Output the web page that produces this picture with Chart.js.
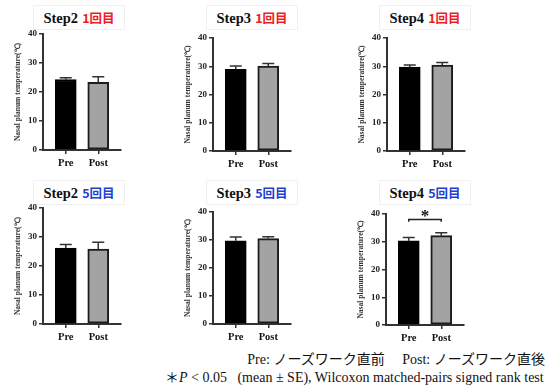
<!DOCTYPE html>
<html>
<head>
<meta charset="utf-8">
<script src="https://cdn.jsdelivr.net/npm/chart.js@4.4.1/dist/chart.umd.min.js"></script>
<style>
  body { margin: 0; background: #fff; }
  #page { position: relative; width: 548px; height: 385px; overflow: hidden; background: #fff; }
  canvas { position: absolute; }
  .ttl { position: absolute; width: 92px; height: 25px; border: 1px solid #f0f0f0; box-sizing: border-box;
         text-align: center; line-height: 24px; white-space: nowrap; }
  .ttl .s { font: bold 14.5px "Liberation Serif", serif; color: #111; }
  .ttl .r { font: bold 12.5px "Noto Sans CJK JP", sans-serif; }
  .note { position: absolute; white-space: pre; color: #111; line-height: 15px; font-family: "Liberation Serif", "Noto Sans CJK JP", serif; }
</style>
</head>
<body>
<div id="page">
  <div class="note" style="right:3px; top:352px; font-size:14px;">Pre: ノーズワーク直前　 Post: ノーズワーク直後</div>
  <div class="note" style="left:165px; top:370px; font-size:14px;">＊<i>P</i> &lt; 0.05   (mean ± SE), Wilcoxon matched-pairs signed rank test</div>
</div>
<script>
// categories and ticks
const groups = ['Pre', 'Post'];
const yTicks = [0, 10, 20, 30, 40];

// mean and SE per panel
const step2r1Mean = [24.3, 23.3];
const step2r1Se = [0.6, 2.0];
const step3r1Mean = [28.9, 30.1];
const step3r1Se = [1.2, 0.9];
const step4r1Mean = [29.7, 30.4];
const step4r1Se = [0.7, 0.9];
const step2r5Mean = [26.2, 25.8];
const step2r5Se = [1.2, 2.4];
const step3r5Mean = [29.7, 30.5];
const step3r5Se = [1.4, 0.7];
const step4r5Mean = [30.3, 32.2];
const step4r5Se = [1.2, 1.0];

const RED = '#ee1c24', BLUE = '#1f3fd0';

const panels = [
  { step: 'Step2', round: '1回目', color: RED,  mean: step2r1Mean, se: step2r1Se, axisX: 43,  top: 34,  bottom: 150, titleX: 79,  titleY: 5 },
  { step: 'Step3', round: '1回目', color: RED,  mean: step3r1Mean, se: step3r1Se, axisX: 213, top: 38,  bottom: 151, titleX: 252, titleY: 5 },
  { step: 'Step4', round: '1回目', color: RED,  mean: step4r1Mean, se: step4r1Se, axisX: 387, top: 38,  bottom: 151, titleX: 425, titleY: 5 },
  { step: 'Step2', round: '5回目', color: BLUE, mean: step2r5Mean, se: step2r5Se, axisX: 43,  top: 208, bottom: 324, titleX: 79,  titleY: 180 },
  { step: 'Step3', round: '5回目', color: BLUE, mean: step3r5Mean, se: step3r5Se, axisX: 213, top: 212, bottom: 324, titleX: 252, titleY: 180 },
  { step: 'Step4', round: '5回目', color: BLUE, mean: step4r5Mean, se: step4r5Se, axisX: 386, top: 214, bottom: 325, titleX: 425, titleY: 180,
    sig: { from: 0, to: 1, y: 38, drop: 0.8, label: '*' } }
];

// upper error whiskers
const errorBars = {
  id: 'errorBars',
  afterDatasetsDraw(chart, args, opts) {
    const ctx = chart.ctx, y = chart.scales.y;
    const meta = chart.getDatasetMeta(0);
    const vals = chart.data.datasets[0].data;
    ctx.save();
    ctx.strokeStyle = '#333';
    ctx.lineWidth = 1.5;
    meta.data.forEach((bar, i) => {
      const t = y.getPixelForValue(vals[i].y + opts.se[i]);
      ctx.beginPath();
      ctx.moveTo(bar.x, bar.y);
      ctx.lineTo(bar.x, t);
      ctx.moveTo(bar.x - 6, t);
      ctx.lineTo(bar.x + 6, t);
      ctx.stroke();
    });
    ctx.restore();
  }
};

// significance bracket
const sigBracket = {
  id: 'sigBracket',
  afterDraw(chart, args, opts) {
    if (!opts.sig) return;
    const s = opts.sig, ctx = chart.ctx, y = chart.scales.y;
    const meta = chart.getDatasetMeta(0);
    const x0 = meta.data[s.from].x, x1 = meta.data[s.to].x;
    const yt = y.getPixelForValue(s.y), yb = y.getPixelForValue(s.y - s.drop);
    ctx.save();
    ctx.strokeStyle = '#222';
    ctx.lineWidth = 1.5;
    ctx.beginPath();
    ctx.moveTo(x0, yb);
    ctx.lineTo(x0, yt);
    ctx.lineTo(x1, yt);
    ctx.lineTo(x1, yb);
    ctx.stroke();
    ctx.fillStyle = '#111';
    ctx.font = 'bold 17px "Liberation Serif"';
    ctx.textAlign = 'center';
    ctx.textBaseline = 'alphabetic';
    ctx.fillText(s.label, (x0 + x1) / 2, yt + 1);
    ctx.restore();
  }
};

const page = document.getElementById('page');

panels.forEach(p => {
  // title box
  const t = document.createElement('div');
  t.className = 'ttl';
  t.style.left = (p.titleX - 46) + 'px';
  t.style.top = p.titleY + 'px';
  t.innerHTML = '<span class="s">' + p.step + '</span> <span class="r" style="color:' + p.color + '">' + p.round + '</span>';
  page.appendChild(t);

  const cv = document.createElement('canvas');
  const padTop = 10, yW = 43, xH = 22, plotW = 78, padR = 6;
  cv.width = yW + plotW + padR;
  cv.height = padTop + (p.bottom - p.top) + xH;
  cv.style.left = (p.axisX - yW) + 'px';
  cv.style.top = (p.top - padTop) + 'px';
  page.appendChild(cv);

  new Chart(cv, {
    type: 'bar',
    data: {
      datasets: [{
        data: p.mean.map((v, i) => ({ x: i + 1, y: v })),
        backgroundColor: ['#000000', '#a3a3a3'],
        borderColor: ['#000000', '#1c1c1c'],
        borderWidth: 2,
        borderSkipped: false,
        barThickness: 21
      }]
    },
    options: {
      responsive: false,
      animation: false,
      devicePixelRatio: 1,
      layout: { padding: { top: padTop, right: padR, left: 0, bottom: 0 } },
      plugins: {
        legend: { display: false },
        tooltip: { enabled: false },
        errorBars: { se: p.se },
        sigBracket: { sig: p.sig }
      },
      scales: {
        x: {
          type: 'linear',
          offset: false,
          min: 0.3,
          max: 2.7,
          afterBuildTicks: s => { s.ticks = groups.map((g, i) => ({ value: i + 1 })); },
          afterFit: s => { s.height = xH; },
          grid: { offset: false, drawOnChartArea: false, drawTicks: true, tickLength: 4, color: '#333', lineWidth: 1.5 },
          border: { display: true, color: '#333', width: 2 },
          ticks: {
            padding: 3,
            color: '#111',
            font: { family: 'Liberation Serif', weight: 'bold', size: 10.5 },
            callback: v => groups[v - 1]
          }
        },
        y: {
          min: 0,
          max: 40,
          afterBuildTicks: s => { s.ticks = yTicks.map(v => ({ value: v })); },
          afterFit: s => { s.width = yW; },
          grid: { drawOnChartArea: false, drawTicks: true, tickLength: 4, color: '#333', lineWidth: 1.5 },
          border: { display: true, color: '#333', width: 2 },
          ticks: {
            padding: 2,
            color: '#222',
            font: { family: 'Liberation Serif', weight: 'bold', size: 9 }
          },
          title: {
            display: true,
            text: 'Nasal planum temperature(℃)',
            color: '#333',
            padding: { top: 13.5, bottom: 0 },
            font: { family: 'Liberation Serif', weight: 'bold', size: 7.5 }
          }
        }
      }
    },
    plugins: [errorBars, sigBracket]
  });
});
</script>
</body>
</html>
